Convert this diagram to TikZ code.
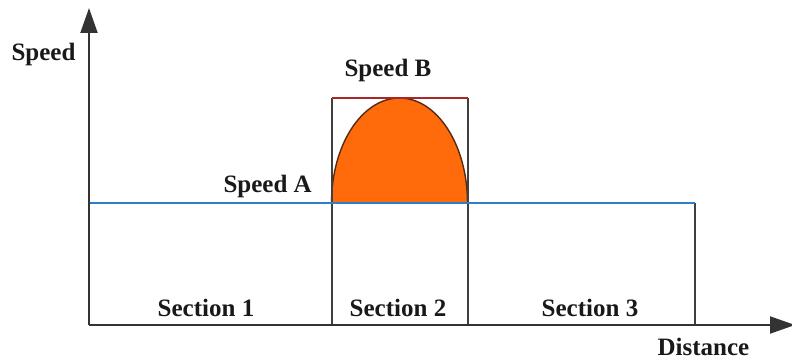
\documentclass[tikz,border=0pt]{standalone}
\usepackage{fontspec}
\setmainfont{Liberation Serif}
\usetikzlibrary{arrows.meta}
\definecolor{axisgray}{HTML}{333333}
\definecolor{boxgray}{HTML}{404040}
\definecolor{topred}{HTML}{A8282A}
\definecolor{lineblue}{HTML}{2E7FC8}
\definecolor{fillorange}{HTML}{FF6A0A}
\definecolor{arcbrown}{HTML}{5A2A10}
\tikzset{
  lbl/.style={font=\bfseries\fontsize{25}{28}\selectfont, text=black!90, inner sep=0pt, anchor=base},
  axisline/.style={draw=axisgray, line width=2pt, -{Triangle[length=25pt,width=17pt]}},
  boxline/.style={draw=boxgray, line width=2pt},
}
\begin{document}
\begin{tikzpicture}[x=1pt,y=-1pt]
\useasboundingbox (0,0) rectangle (792,361);
% named coordinates
\coordinate (O) at (89,325);
\coordinate (Ytip) at (89,8);
\coordinate (Xtip) at (795,325);
\coordinate (A1) at (331.5,203);
\coordinate (A2) at (467.5,203);
\coordinate (Aend) at (695,203);
\coordinate (B1) at (331.5,98);
\coordinate (B2) at (467.5,98);
\coordinate (X1) at (331.5,325);
\coordinate (X2) at (467.5,325);
\coordinate (X3) at (695,325);
% half ellipse
\fill[fillorange] (A1) arc[start angle=180, end angle=360, x radius=68, y radius=105] -- cycle;
\draw[arcbrown, line width=1.4pt] (A1) arc[start angle=180, end angle=360, x radius=68, y radius=105];
% section verticals and box
\draw[boxline] (X1) -- (B1);
\draw[boxline] (X2) -- (B2);
\draw[boxline] (X3) -- (Aend);
\draw[topred, line width=2pt] (B1) -- (B2);
% blue level line
\draw[lineblue, line width=2pt] (O |- A1) -- (Aend);
% axes
\draw[axisline] (O) -- (Ytip);
\draw[axisline] (O) -- (Xtip);
% labels
\node[lbl] (speed) at (43.5,60) {Speed};
\node[lbl] (speedB) at (388,76) {Speed B};
\node[lbl, anchor=base east] (speedA) at (312,192) {Speed A};
\node[lbl] (s1) at (206,316) {Section 1};
\node[lbl] (s2) at (398,316) {Section 2};
\node[lbl] (s3) at (590,316) {Section 3};
\node[lbl] (dist) at (703.5,355) {Distance};
\end{tikzpicture}
\end{document}
